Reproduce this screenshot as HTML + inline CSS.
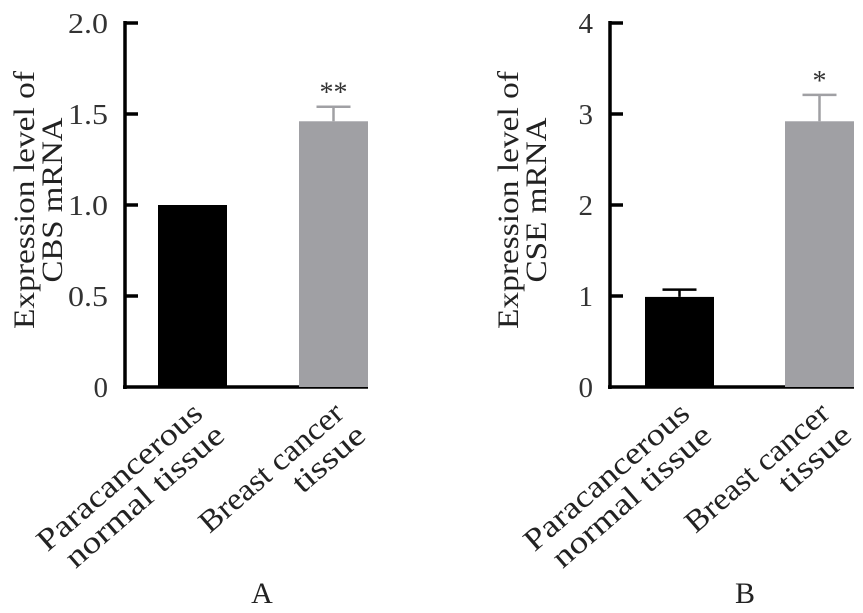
<!DOCTYPE html>
<html><head><meta charset="utf-8"><style>
html,body{margin:0;padding:0;background:#fff;}
svg{display:block;font-family:"Liberation Serif",serif;}
</style></head><body>
<svg id="chart" width="863" height="613" viewBox="0 0 863 613"></svg>
<script>
const categories = ["Paracancerous normal tissue","Breast cancer tissue"];
const cbsValues = [1.0, 1.46];
const cbsErrors = [0.0, 0.08];
const cbsTicks = ["0","0.5","1.0","1.5","2.0"];
const cbsTickValues = [0,0.5,1.0,1.5,2.0];
const cseValues = [0.99, 2.92];
const cseErrors = [0.08, 0.29];
const cseTicks = ["0","1","2","3","4"];
const cseTickValues = [0,1,2,3,4];
const signif = ["", "**"];
const signifB = ["", "*"];

const NS = "http://www.w3.org/2000/svg";
const svg = document.getElementById('chart');
function mk(tag, attrs, parent){
  const e = document.createElementNS(NS, tag);
  for (const k in attrs) e.setAttribute(k, attrs[k]);
  (parent||svg).appendChild(e);
  return e;
}
function panel(cfg){
  const g = mk('g', {});
  
  
  const y0 = 387, y1 = 23;
  const yScale = v => y0 - (v - cfg.min) / (cfg.max - cfg.min) * (y0 - y1);
  const ax = cfg.axisX;
  const yAxis = mk('line', {x1: ax, y1: y1 - 2, x2: ax, y2: y0 + 2, stroke: '#000', 'stroke-width': 3.5}, g);
  
  
  const xAxis = mk('line', {x1: ax - 2, y1: y0, x2: cfg.axisEnd, y2: y0, stroke: '#000', 'stroke-width': 3.5}, g);
  
  
  cfg.tickValues.forEach((v, i) => {
    const y = yScale(v);
    if (i > 0) {
      const t = mk('line', {x1: ax, y1: y, x2: ax + 13, y2: y, stroke: '#000', 'stroke-width': 3.5}, g);
      
      
    }
    const attrs = {x: ax - 17, y: y + 10, 'text-anchor': 'end', 'font-size': 29, fill: '#333'};
    const lb = mk('text', attrs, g);
    lb.textContent = cfg.ticks[i];
    if (cfg.ticks[i].length > 1) { lb.setAttribute('textLength', 40); lb.setAttribute('lengthAdjust', 'spacingAndGlyphs'); }
    
    
  });
  const tt = mk('text', {transform: `translate(${cfg.titleX},200) rotate(-90)`, 'text-anchor': 'middle', 'font-size': 30, fill: '#222'}, g);
  
  
  const s1 = mk('tspan', {x: 0, y: 0, textLength: 258, lengthAdjust: 'spacingAndGlyphs'}, tt); s1.textContent = 'Expression level of';
  const s2 = mk('tspan', {x: 0, y: 28, textLength: 165, lengthAdjust: 'spacingAndGlyphs'}, tt); s2.textContent = cfg.titleLine2;
  const colors = ['#000', '#a0a0a4'];
  cfg.values.forEach((v, i) => {
    const bx = cfg.barX[i], bw = 69;
    const top = yScale(v);
    const bar = mk('rect', {x: bx, y: top, width: bw, height: y0 - top, fill: colors[i]}, g);
    
    
    const cx = bx + bw / 2;
    const et = yScale(v + cfg.errors[i]);
    if (cfg.errors[i] > 0) {
      const el = mk('path', {d: `M${cx},${top} V${et} M${cx-17},${et} H${cx+17}`, stroke: colors[i], 'stroke-width': 2.5, fill: 'none'}, g);
      
      
    }
    if (cfg.signif[i]) {
      const st = mk('text', {x: cx, y: et - 5, 'text-anchor': 'middle', 'font-size': 28, fill: '#333'}, g);
      st.textContent = cfg.signif[i];
      
      
    }
    const words = i === 0 ? ['Paracancerous', 'normal tissue'] : ['Breast cancer', 'tissue'];
    const lens = i === 0 ? [208, 200] : [180, 86];
    const ex = cx + (i === 0 ? 12 : 12), ey = 416;
    words.forEach((w, j) => {
      const x = ex + j * 22, y = ey + j * 22;
      const xl = mk('text', {transform: `translate(${x},${y}) rotate(-41)`, 'text-anchor': 'end', 'font-size': 31, fill: '#222', textLength: lens[j], lengthAdjust: 'spacingAndGlyphs'}, g);
      xl.textContent = w;
      
      
    });
  });
  const pl = mk('text', {x: cfg.letterX, y: 603, 'text-anchor': 'middle', 'font-size': 30, fill: '#222'}, g);
  pl.textContent = cfg.letter;
  
  
}
panel({name: 'panel-a-cbs', axisX: 125, axisEnd: 368, min: 0, max: 2, ticks: cbsTicks, tickValues: cbsTickValues,
  values: cbsValues, errors: cbsErrors, signif: signif, barX: [158, 299], titleX: 34, titleLine2: 'CBS mRNA', letter: 'A', letterX: 262});
panel({name: 'panel-b-cse', axisX: 610, axisEnd: 854, min: 0, max: 4, ticks: cseTicks, tickValues: cseTickValues,
  values: cseValues, errors: cseErrors, signif: signifB, barX: [645, 785], titleX: 518, titleLine2: 'CSE mRNA', letter: 'B', letterX: 745});
</script>
</body></html>
